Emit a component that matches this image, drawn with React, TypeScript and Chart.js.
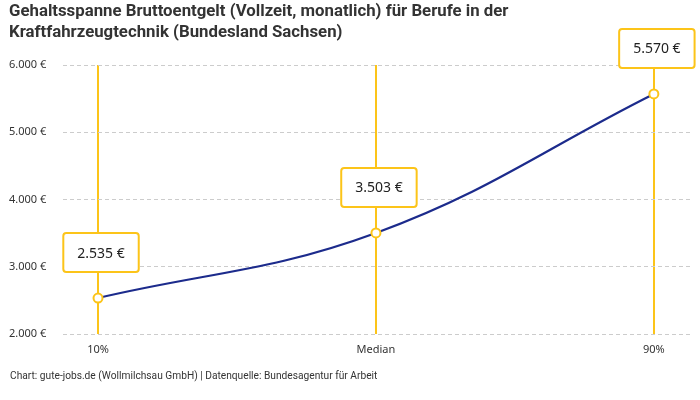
import { useEffect, useRef } from 'react';
import { Chart, registerables } from 'chart.js';

Chart.register(...registerables);

const categories = ['10%', 'Median', '90%'];
const salaries = [2535, 3503, 5570];
const yTicks = [2000, 3000, 4000, 5000, 6000];

const titleLines = [
    'Gehaltsspanne Bruttoentgelt (Vollzeit, monatlich) für Berufe in der',
    'Kraftfahrzeugtechnik (Bundesland Sachsen)',
];
const sourceText = 'Chart: gute-jobs.de (Wollmilchsau GmbH) | Datenquelle: Bundesagentur für Arbeit';

const FONT = '"Noto Sans", sans-serif';
const TEXT_FONT = 'Roboto, "Noto Sans", sans-serif';
const YELLOW = '#fcc419';
const NAVY = '#1c2b8c';

function euro(v: number) {
    return String(v).replace(/\B(?=(\d{3})+(?!\d))/g, '.') + ' €';
}

// white boxes with yellow border above each point
const valueBoxes = {
    id: 'valueBoxes',
    afterDatasetsDraw(chart: any) {
        const ctx = chart.ctx;
        const meta = chart.getDatasetMeta(0);
        ctx.save();
        ctx.font = '14px ' + FONT;
        meta.data.forEach((pt: any, i: number) => {
            const text = euro(salaries[i]);
            const w = ctx.measureText(text).width + 28;
            const h = 39;
            const cx = pt.x + 3;
            const x = cx - w / 2;
            const y = pt.y - 26 - h;
            ctx.beginPath();
            ctx.roundRect(x, y, w, h, 3);
            ctx.fillStyle = '#fff';
            ctx.fill();
            ctx.lineWidth = 2;
            ctx.strokeStyle = YELLOW;
            ctx.stroke();
            ctx.fillStyle = '#222';
            ctx.textAlign = 'center';
            ctx.textBaseline = 'middle';
            ctx.fillText(text, cx, y + h / 2 + 1);
        });
        ctx.restore();
    },
};

export default function App() {
    const chartRef = useRef<HTMLCanvasElement>(null);
    const chartInstance = useRef<Chart | null>(null);

    useEffect(() => {
        document.body.style.margin = '0';
        if (!chartRef.current) return;
        const ctx = chartRef.current.getContext('2d');
        if (!ctx) return;
        if (chartInstance.current) chartInstance.current.destroy();

        chartInstance.current = new Chart(ctx, {
            type: 'line',
            data: {
                datasets: [
                    {
                        label: 'Bruttoentgelt',
                        data: salaries.map((v, i) => ({ x: i, y: v })),
                        borderColor: NAVY,
                        borderWidth: 2.2,
                        tension: 0.4,
                        pointRadius: 4.5,
                        pointBackgroundColor: '#fff',
                        pointBorderColor: YELLOW,
                        pointBorderWidth: 2,
                        clip: false as any,
                    },
                ],
            },
            options: {
                animation: false,
                responsive: false,
                maintainAspectRatio: false,
                layout: { padding: { top: 65, left: 9, right: 10, bottom: 36 } },
                plugins: {
                    legend: { display: false },
                    tooltip: { enabled: false },
                },
                scales: {
                    x: {
                        type: 'linear',
                        min: -0.126,
                        max: 2.13,
                        afterBuildTicks: (scale: any) => {
                            scale.ticks = categories.map((_, i) => ({ value: i }));
                        },
                        afterFit: (scale: any) => {
                            scale.height = 30;
                        },
                        grid: { color: YELLOW, lineWidth: 2, drawTicks: false },
                        border: { display: false },
                        ticks: {
                            padding: 9,
                            color: '#333',
                            font: { family: FONT, size: 11 },
                            callback: (v: any) => categories[v] ?? '',
                        },
                    },
                    y: {
                        min: 2000,
                        max: 6000,
                        afterBuildTicks: (scale: any) => {
                            scale.ticks = yTicks.map((v) => ({ value: v }));
                        },
                        afterFit: (scale: any) => {
                            scale.width = 54;
                        },
                        grid: { color: '#cccccc', lineWidth: 1, drawTicks: false },
                        border: { display: false, dash: [4, 3] },
                        ticks: {
                            crossAlign: 'far',
                            color: '#333',
                            font: { family: FONT, size: 11 },
                            callback: (v: any) => euro(Number(v)),
                        },
                    },
                },
            },
            plugins: [valueBoxes],
        });

        return () => {
            if (chartInstance.current) {
                chartInstance.current.destroy();
                chartInstance.current = null;
            }
        };
    }, []);

    return (
        <div style={{ position: 'relative', width: 700, height: 400, background: '#fff', fontFamily: TEXT_FONT }}>
            <canvas ref={chartRef} width={700} height={400} style={{ position: 'absolute', left: 0, top: 0 }}></canvas>
            <div
                style={{
                    position: 'absolute',
                    left: 9,
                    top: 0,
                    fontSize: 16.8,
                    fontWeight: 700,
                    lineHeight: '21px',
                    color: '#333',
                }}
            >
                {titleLines.map((line) => (
                    <div key={line}>{line}</div>
                ))}
            </div>
            <div style={{ position: 'absolute', left: 10, top: 370, fontSize: 10.2, color: '#333' }}>{sourceText}</div>
        </div>
    );
}
